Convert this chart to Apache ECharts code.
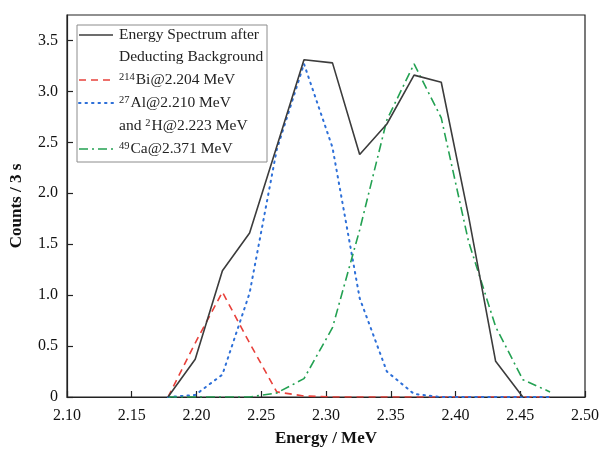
<!DOCTYPE html>
<html>
<head>
<meta charset="utf-8">
<script src="https://cdn.jsdelivr.net/npm/echarts@6/dist/echarts.min.js"></script>
<style>html,body{margin:0;padding:0;background:#fff;}#c{width:602px;height:452px;}</style>
</head>
<body>
<div id="c"></div>
<script>
var energies = [2.178, 2.199, 2.220, 2.241, 2.262, 2.283, 2.305, 2.326, 2.347, 2.368, 2.389, 2.410, 2.431, 2.452, 2.473];
var spectrum = [0, 0.37, 1.24, 1.61, 2.46, 3.31, 3.28, 2.38, 2.68, 3.16, 3.09, 1.78, 0.35, 0];
var bi214 = [0, 0.53, 1.03, 0.53, 0.05, 0.01, 0, 0, 0, 0, 0, 0, 0, 0, 0];
var al27h2 = [0, 0.02, 0.22, 1.02, 2.43, 3.27, 2.45, 0.97, 0.25, 0.03, 0, 0, 0, 0, 0];
var ca49 = [0, 0, 0, 0, 0.04, 0.18, 0.68, 1.64, 2.72, 3.27, 2.74, 1.53, 0.69, 0.17, 0.05];
var xTicks = [2.10, 2.15, 2.20, 2.25, 2.30, 2.35, 2.40, 2.45, 2.50];
var yTicks = [0, 0.5, 1.0, 1.5, 2.0, 2.5, 3.0, 3.5];

function pairs(xs, ys) { return ys.map(function (v, i) { return [xs[i], v]; }); }

var serif = '"Liberation Serif", "Times New Roman", serif';
var chart = echarts.init(document.getElementById('c'), null, { renderer: 'canvas' });

var legendX = 79, legendTextX = 119;
var lf = '15.5px ' + serif;
var sup = { fontSize: 10.5, fontFamily: serif, verticalAlign: 'top', fill: '#222', padding: [0, 1, 0, 0] };

chart.setOption({
  animation: false,
  backgroundColor: '#fff',
  grid: { left: 66, right: 15, top: 15, bottom: 51, show: true, borderColor: '#222', borderWidth: 1.2 },
  xAxis: {
    type: 'value', min: 2.10, max: 2.50, interval: 0.05,
    name: 'Energy / MeV', nameLocation: 'middle', nameGap: 33,
    nameTextStyle: { fontFamily: serif, fontSize: 17, fontWeight: 'bold', color: '#111' },
    axisLine: { show: true, lineStyle: { color: '#222', width: 1.2 } },
    axisTick: { show: true, inside: true, length: 6, lineStyle: { color: '#222', width: 1.2 } },
    axisLabel: { fontFamily: serif, fontSize: 16, color: '#111', margin: 11,
      formatter: function (v) { return xTicks.some(function (t) { return Math.abs(t - v) < 1e-6; }) ? v.toFixed(2) : ''; } },
    splitLine: { show: false }
  },
  yAxis: {
    type: 'value', min: 0, max: 3.75, interval: 0.5,
    name: 'Counts / 3 s', nameLocation: 'middle', nameGap: 42,
    nameTextStyle: { fontFamily: serif, fontSize: 17, fontWeight: 'bold', color: '#111' },
    axisLine: { show: true, lineStyle: { color: '#222', width: 1.2 } },
    axisTick: { show: true, inside: true, length: 6, lineStyle: { color: '#222', width: 1.2 } },
    axisLabel: { fontFamily: serif, fontSize: 16, color: '#111', margin: 9, showMaxLabel: false,
      formatter: function (v) {
        var hit = yTicks.some(function (t) { return Math.abs(t - v) < 1e-6; });
        if (!hit) return '';
        return v === 0 ? '0' : v.toFixed(1);
      } },
    splitLine: { show: false }
  },
  series: [
    { name: 'spectrum', type: 'line', data: pairs(energies, spectrum), showSymbol: false, symbol: 'none',
      lineStyle: { color: '#3c3c3c', width: 1.6 }, z: 5 },
    { name: 'bi', type: 'line', data: pairs(energies, bi214), showSymbol: false, symbol: 'none',
      lineStyle: { color: '#e8413b', width: 1.6, type: [7, 5] }, z: 3 },
    { name: 'al', type: 'line', data: pairs(energies, al27h2), showSymbol: false, symbol: 'none',
      lineStyle: { color: '#2d6fd8', width: 2, type: [1.5, 5], cap: 'round' }, z: 3 },
    { name: 'ca', type: 'line', data: pairs(energies, ca49), showSymbol: false, symbol: 'none',
      lineStyle: { color: '#23a152', width: 1.6, type: [9, 4, 2, 4] }, z: 4 }
  ],
  graphic: [
    { type: 'rect', shape: { x: 77, y: 25, width: 190, height: 137 }, style: { fill: '#fff', stroke: '#8c8c8c', lineWidth: 1 }, z: 10 },
    { type: 'line', shape: { x1: legendX, y1: 35, x2: 113, y2: 35 }, style: { stroke: '#3c3c3c', lineWidth: 1.6 }, z: 11 },
    { type: 'line', shape: { x1: legendX, y1: 80, x2: 113, y2: 80 }, style: { stroke: '#e8413b', lineWidth: 1.6, lineDash: [7, 5] }, z: 11 },
    { type: 'line', shape: { x1: legendX, y1: 103, x2: 113, y2: 103 }, style: { stroke: '#2d6fd8', lineWidth: 2, lineDash: [1.5, 5], lineCap: 'round' }, z: 11 },
    { type: 'line', shape: { x1: legendX, y1: 149, x2: 113, y2: 149 }, style: { stroke: '#23a152', lineWidth: 1.6, lineDash: [9, 4, 2, 4] }, z: 11 },
    { type: 'text', style: { x: legendTextX, y: 35, text: 'Energy Spectrum after', font: lf, fill: '#222', verticalAlign: 'middle' }, z: 11 },
    { type: 'text', style: { x: legendTextX, y: 57, text: 'Deducting Background', font: lf, fill: '#222', verticalAlign: 'middle' }, z: 11 },
    { type: 'text', style: { x: legendTextX, y: 80, text: '{sup|214}Bi@2.204 MeV', font: lf, fill: '#222', verticalAlign: 'middle', rich: { sup: sup } }, z: 11 },
    { type: 'text', style: { x: legendTextX, y: 103, text: '{sup|27}Al@2.210 MeV', font: lf, fill: '#222', verticalAlign: 'middle', rich: { sup: sup } }, z: 11 },
    { type: 'text', style: { x: legendTextX, y: 126, text: 'and {sup|2}H@2.223 MeV', font: lf, fill: '#222', verticalAlign: 'middle', rich: { sup: sup } }, z: 11 },
    { type: 'text', style: { x: legendTextX, y: 149, text: '{sup|49}Ca@2.371 MeV', font: lf, fill: '#222', verticalAlign: 'middle', rich: { sup: sup } }, z: 11 }
  ]
});
</script>
</body>
</html>
